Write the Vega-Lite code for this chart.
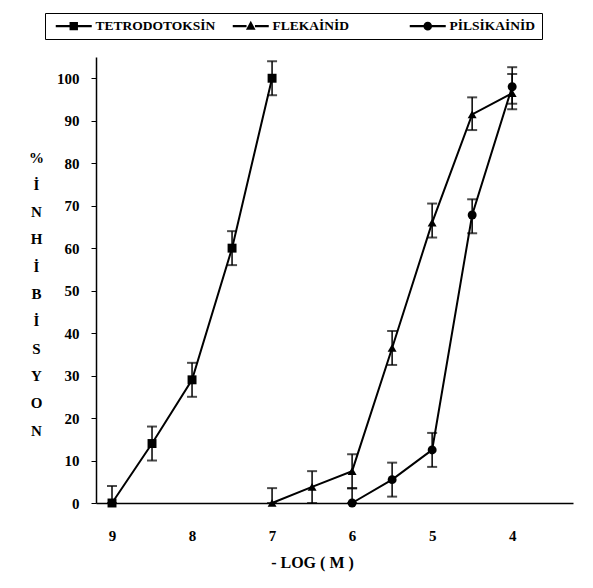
{
  "$schema": "https://vega.github.io/schema/vega-lite/v6.json",
  "width": 477,
  "height": 446,
  "autosize": {"type": "none"},
  "padding": {"left": 96, "top": 57, "right": 20, "bottom": 85},
  "background": "white",
  "config": {
    "view": {"stroke": null},
    "font": "Liberation Serif",
    "legend": {"labelFont": "Liberation Serif", "labelFontWeight": "bold"},
    "axis": {"grid": false, "domainColor": "black", "tickColor": "black", "labelColor": "black", "titleColor": "black", "labelFont": "Liberation Serif", "titleFont": "Liberation Serif", "labelFontWeight": "bold", "titleFontWeight": "bold", "domainWidth": 1.5}
  },
  "data": {
    "values": [
      {"series": "TETRODOTOKSİN", "x": 9, "y": 0, "lo": 0, "hi": 4},
      {"series": "TETRODOTOKSİN", "x": 8.5, "y": 14, "lo": 10, "hi": 18},
      {"series": "TETRODOTOKSİN", "x": 8, "y": 29, "lo": 25, "hi": 33},
      {"series": "TETRODOTOKSİN", "x": 7.5, "y": 60, "lo": 56, "hi": 64},
      {"series": "TETRODOTOKSİN", "x": 7, "y": 100, "lo": 96, "hi": 104},
      {"series": "FLEKAİNİD", "x": 7, "y": 0, "lo": 0, "hi": 3.5},
      {"series": "FLEKAİNİD", "x": 6.5, "y": 3.8, "lo": 0, "hi": 7.5},
      {"series": "FLEKAİNİD", "x": 6, "y": 7.5, "lo": 3.5, "hi": 11.5},
      {"series": "FLEKAİNİD", "x": 5.5, "y": 36.5, "lo": 32.5, "hi": 40.5},
      {"series": "FLEKAİNİD", "x": 5, "y": 66, "lo": 62.5, "hi": 70.5},
      {"series": "FLEKAİNİD", "x": 4.5, "y": 91.5, "lo": 87.8, "hi": 95.5},
      {"series": "FLEKAİNİD", "x": 4, "y": 96.5, "lo": 92.7, "hi": 101},
      {"series": "PİLSİKAİNİD", "x": 6, "y": 0, "lo": 0, "hi": 3.5},
      {"series": "PİLSİKAİNİD", "x": 5.5, "y": 5.5, "lo": 1.5, "hi": 9.5},
      {"series": "PİLSİKAİNİD", "x": 5, "y": 12.5, "lo": 8.5, "hi": 16.5},
      {"series": "PİLSİKAİNİD", "x": 4.5, "y": 67.8, "lo": 63.5, "hi": 71.5},
      {"series": "PİLSİKAİNİD", "x": 4, "y": 98, "lo": 94, "hi": 102.6}
    ]
  },
  "encoding": {
    "x": {
      "field": "x", "type": "quantitative",
      "scale": {"domain": [9.2, 3.24], "nice": false, "zero": false},
      "axis": {"values": [9, 8, 7, 6, 5, 4], "ticks": false, "labelPadding": 25, "labelFontSize": 15, "title": "- LOG ( M )", "titleFontSize": 16, "titleX": 216, "titleY": 51, "titleAnchor": null, "format": "d"}
    }
  },
  "resolve": {"scale": {"shape": "independent"}},
  "layer": [
    {
      "mark": {"type": "line", "color": "black", "strokeWidth": 2},
      "encoding": {
        "y": {"field": "y", "type": "quantitative", "scale": {"domain": [0, 105], "nice": false},
          "axis": {"values": [0, 10, 20, 30, 40, 50, 60, 70, 80, 90, 100], "tickSize": 5, "labelPadding": 12, "labelFontSize": 15,
            "title": ["%", "İ", "N", "H", "İ", "B", "İ", "S", "Y", "O", "N"],
            "titleAngle": 0, "titleFontSize": 15, "titleLineHeight": 27.3, "titleAlign": "center", "titleBaseline": "middle", "titleX": -60, "titleY": 100}},
        "detail": {"field": "series"}
      }
    },
    {
      "mark": {"type": "errorbar", "ticks": {"size": 10, "thickness": 2, "color": "black"}, "rule": {"strokeWidth": 1.5, "color": "black"}},
      "encoding": {
        "y": {"field": "lo", "type": "quantitative", "title": ["%", "İ", "N", "H", "İ", "B", "İ", "S", "Y", "O", "N"]},
        "y2": {"field": "hi"},
        "detail": {"field": "series"}
      }
    },
    {
      "mark": {"type": "point", "filled": true, "color": "black", "opacity": 1, "size": 80},
      "encoding": {
        "y": {"field": "y", "type": "quantitative", "title": ["%", "İ", "N", "H", "İ", "B", "İ", "S", "Y", "O", "N"]},
        "shape": {
          "field": "series", "type": "nominal",
          "scale": {"domain": ["TETRODOTOKSİN", "FLEKAİNİD", "PİLSİKAİNİD"], "range": ["square", "triangle-up", "circle"]},
          "legend": null
        }
      }
    },
    {
      "mark": {"type": "point", "filled": true, "color": "black", "opacity": 0, "size": 144},
      "encoding": {
        "y": {"field": "y", "type": "quantitative", "title": ["%", "İ", "N", "H", "İ", "B", "İ", "S", "Y", "O", "N"]},
        "shape": {
          "field": "series", "type": "nominal",
          "scale": {"domain": ["TETRODOTOKSİN", "FLEKAİNİD", "PİLSİKAİNİD"], "range": [
            "M-3,-0.17H-0.7V0.17H-3ZM0.7,-0.17H3V0.17H0.7ZM-0.7,-0.7H0.7V0.7H-0.7Z",
            "M-3,-0.17H-0.7V0.17H-3ZM0.7,-0.17H3V0.17H0.7ZM0,-0.9L0.8,0.6H-0.8Z",
            "M-3,-0.17H-0.7V0.17H-3ZM0.7,-0.17H3V0.17H0.7ZM-0.72,0A0.72,0.72,0,1,1,0.72,0A0.72,0.72,0,1,1,-0.72,0Z"
          ]},
          "legend": {
            "title": null, "orient": "none", "direction": "horizontal", "legendX": -51, "legendY": -44,
            "strokeColor": "black", "padding": 6, "cornerRadius": 0, "gridAlign": "all",
            "symbolSize": 144, "symbolOffset": 16, "labelOffset": 15, "columnPadding": 12,
            "symbolOpacity": 1, "symbolFillColor": "black", "symbolStrokeWidth": 0,
            "labelFont": "Liberation Serif", "labelFontWeight": "bold", "labelFontSize": 13.5, "labelColor": "black"
          }
        }
      }
    }
  ]
}
